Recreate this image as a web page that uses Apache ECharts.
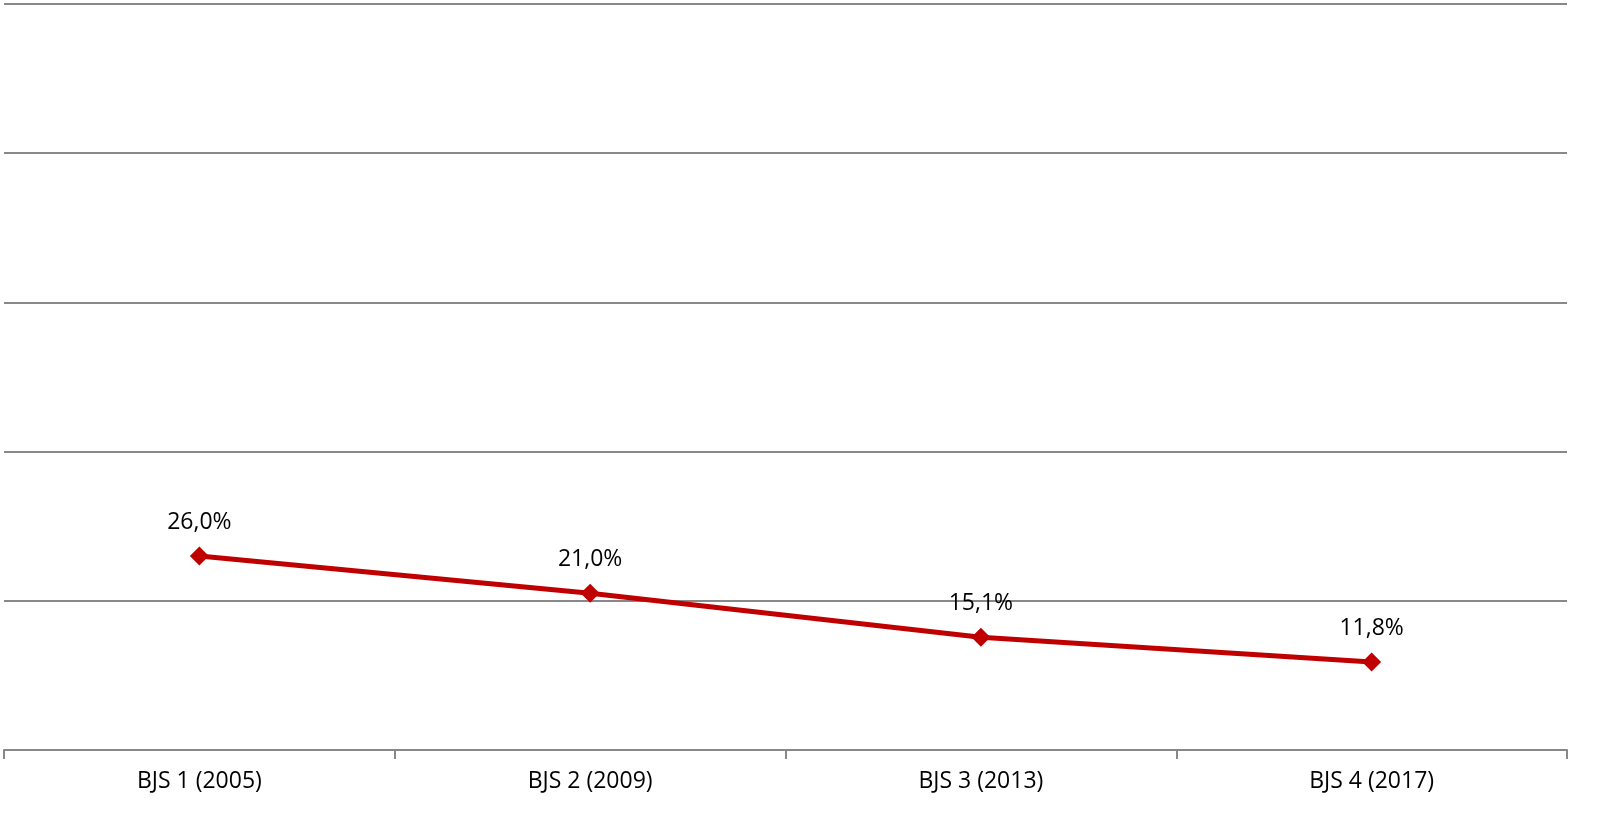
<!DOCTYPE html>
<html><head><meta charset="utf-8">
<script src="https://cdn.jsdelivr.net/npm/echarts@6/dist/echarts.min.js"></script>
<style>html,body{margin:0;padding:0;background:#fff}#c{width:1607px;height:820px}</style>
</head><body><div id="c"></div>
<script>
const categories = ['BJS 1 (2005)', 'BJS 2 (2009)', 'BJS 3 (2013)', 'BJS 4 (2017)'];
const values = [26.0, 21.0, 15.1, 11.8];
const yMin = 0, yMax = 100, yInterval = 20;

const chart = echarts.init(document.getElementById('c'));
chart.setOption({
  animation: false,
  grid: { left: 4, right: 40, top: 4, bottom: 70, containLabel: false },
  xAxis: {
    type: 'category', data: categories, boundaryGap: true,
    axisLine: { lineStyle: { color: '#888', width: 2 } },
    axisTick: { show: true, length: 9, lineStyle: { color: '#888', width: 2 } },
    axisLabel: { color: '#000', fontSize: 23, fontFamily: 'Open Sans', margin: 20 }
  },
  yAxis: {
    type: 'value', min: yMin, max: yMax, interval: yInterval,
    axisLabel: { show: false }, axisLine: { show: false }, axisTick: { show: false },
    splitLine: { lineStyle: { color: '#888', width: 2 } }
  },
  series: [{
    type: 'line', data: values,
    lineStyle: { color: '#C00000', width: 5 },
    itemStyle: { color: '#C00000' },
    symbol: 'diamond', symbolSize: 19,
    label: {
      show: true, position: 'top', distance: 13, color: '#000', fontSize: 23, fontFamily: 'Open Sans',
      formatter: p => p.value.toFixed(1).replace('.', ',') + '%'
    }
  }]
});
</script></body></html>
